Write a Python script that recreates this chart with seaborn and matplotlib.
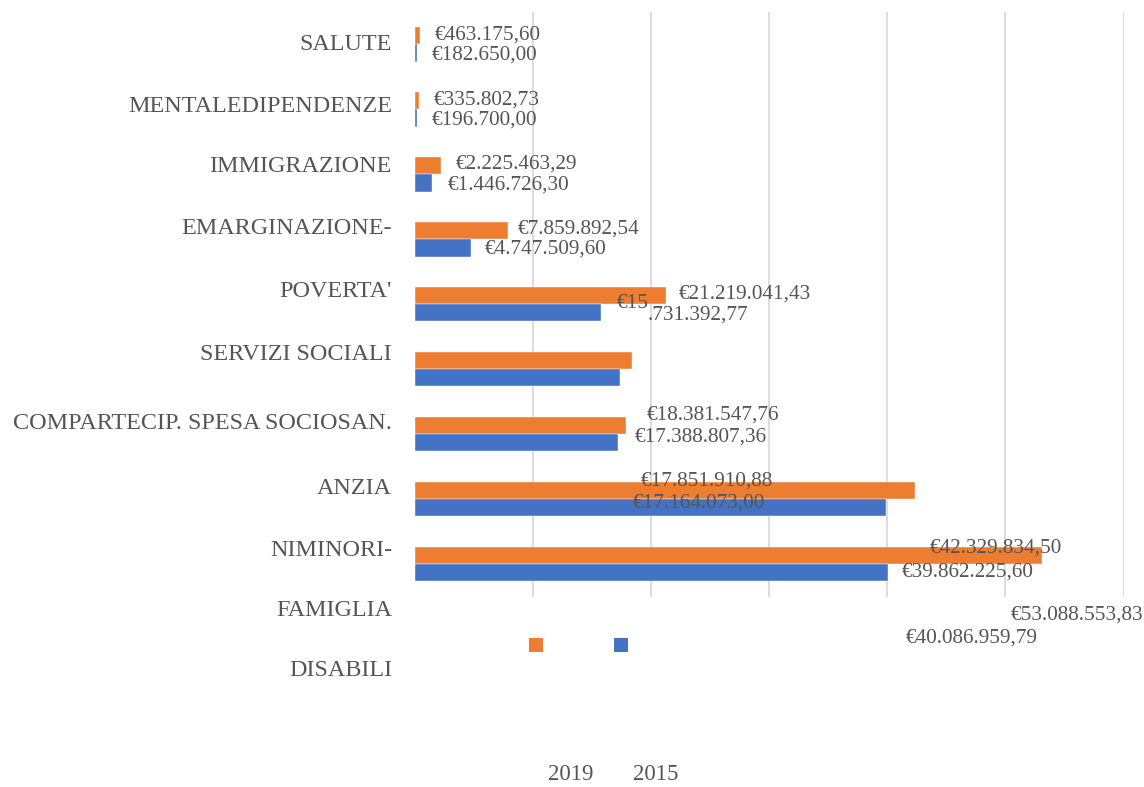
import numpy as np
import pandas as pd
import matplotlib
matplotlib.use("Agg")
import matplotlib.pyplot as plt
import matplotlib.patches as mpatches
import seaborn as sns

categories = ["SALUTE MENTALE", "DIPENDENZE", "IMMIGRAZIONE", "EMARGINAZIONE-POVERTA'",
              "SERVIZI SOCIALI", "COMPARTECIP. SPESA SOCIOSAN.", "ANZIANI",
              "FAMIGLIA-MINORI", "DISABILI"]
values_2019 = [463175.60, 335802.73, 2225463.29, 7859892.54, 21219041.43,
               18381547.76, 17851910.88, 42329834.50, 53088553.83]
values_2015 = [182650.00, 196700.00, 1446726.30, 4747509.60, 15731392.77,
               17388807.36, 17164073.00, 39862225.60, 40086959.79]
years = ["2019", "2015"]
# category labels as they show up in the exported chart (wrapped text broken apart)
axis_labels = ["SALUTE", "MENTALEDIPENDENZE", "IMMIGRAZIONE", "EMARGINAZIONE-", "POVERTA'",
               "SERVIZI SOCIALI", "COMPARTECIP. SPESA SOCIOSAN.", "ANZIA", "NIMINORI-",
               "FAMIGLIA", "DISABILI"]

W, H = 1144, 787
orange = "#ED7D31"
blue = "#4472C4"
txt = "#555555"

sns.set_style("white")
plt.rcParams["font.family"] = ["Liberation Serif", "DejaVu Serif"]

df = pd.DataFrame({
    "categoria": categories * 2,
    "valore": values_2019 + values_2015,
    "anno": [years[0]] * len(categories) + [years[1]] * len(categories),
})

fig = plt.figure(figsize=(W / 100, H / 100), dpi=100)
ax = fig.add_axes([415 / W, 1 - 596.5 / H, (1123.5 - 415) / W, (596.5 - 12) / H])

sns.barplot(data=df, x="valore", y="categoria", hue="anno", hue_order=years,
            order=categories, palette=[orange, blue], saturation=1, width=0.53,
            orient="h", edgecolor="white", linewidth=0.3, legend=False, ax=ax)

ax.set_xlim(0, 60e6)
ax.set_ylim(len(categories) - 0.5, -0.5)
ax.set_xticks(np.arange(10e6, 60e6 + 1, 10e6))
ax.set_xticklabels([])
ax.set_yticks([])
ax.tick_params(length=0)
ax.grid(axis="x", color="#D9D9D9", lw=1.3)
ax.set_axisbelow(True)
ax.set_xlabel("")
ax.set_ylabel("")
sns.despine(ax=ax, left=True, bottom=True)


def px(x, y):
    # pixel position (top-left origin) -> figure fraction, small nudge for text centring
    return x / W, 1 - (y + 2) / H


def euro(v):
    s = f"{v:,.2f}".replace(",", "X").replace(".", ",").replace("X", ".")
    return "€" + s


# category labels, right aligned
label_y = [43, 104, 165, 227, 290, 352, 422, 487, 548, 609, 668]
for lab, y in zip(axis_labels, label_y):
    fig.text(*px(392, y), lab, ha="right", va="center", fontsize=17.4, color=txt)

# data labels (positions as in the exported picture)
pos_2019 = [(435, 33), (434, 98), (456, 162), (518, 227), (679, 292),
            (647, 413), (641, 479), (930, 546), (1011, 613)]
pos_2015 = [(432, 53), (432, 118), (448, 183), (485, 247), (617, 302),
            (635, 435), (633, 501), (902, 570), (906, 636)]

for v, (x, y) in zip(values_2019, pos_2019):
    fig.text(*px(x, y), euro(v), ha="left", va="center", fontsize=15.3, color=txt)
for i, (v, (x, y)) in enumerate(zip(values_2015, pos_2015)):
    s = euro(v)
    if i == 4:
        fig.text(*px(x, y), s[:3], ha="left", va="center", fontsize=15.3, color=txt)
        fig.text(*px(648, 313), s[3:], ha="left", va="center", fontsize=15.3, color=txt)
    else:
        fig.text(*px(x, y), s, ha="left", va="center", fontsize=15.3, color=txt)

# legend: markers and text ended up apart
for x0, col in [(529, orange), (614, blue)]:
    fig.add_artist(mpatches.Rectangle((x0 / W, 1 - 652 / H), 14 / W, 14 / H,
                                      transform=fig.transFigure, color=col, lw=0))
fig.text(*px(571, 773), years[0], ha="center", va="center", fontsize=16.5, color=txt)
fig.text(*px(655.5, 773), years[1], ha="center", va="center", fontsize=16.5, color=txt)

fig.savefig("out.png", dpi=100, facecolor="white")
